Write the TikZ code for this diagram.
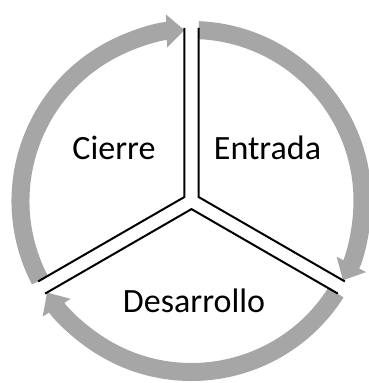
\documentclass[tikz,border=0pt]{standalone}
\usepackage{fontspec}
\setmainfont{Carlito}
\definecolor{cyclegray}{RGB}{166, 166, 166}
\usetikzlibrary{arrows.meta, calc}

\begin{document}
\begin{tikzpicture}[x=1pt, y=1pt,
  cyclearrow/.style={draw=cyclegray, line width=18pt, -{Triangle[width=32pt, length=18pt]}},
  divider/.style={draw=black, line width=2pt},
  phase/.style={anchor=base, font=\fontsize{34}{40}\selectfont}]
  \useasboundingbox (0,0) rectangle (369,383);
  \coordinate (c) at (191.5,182);

  % arcs of the cycle
  \draw[cyclearrow] ($(c)+(207.65:171pt)$) arc[start angle=207.65, end angle=92.35, radius=171pt];
  \draw[cyclearrow] ($(c)+(87.65:171pt)$) arc[start angle=87.65, end angle=-27.65, radius=171pt];
  \draw[cyclearrow] ($(c)+(-32.35:171pt)$) arc[start angle=-32.35, end angle=-147.65, radius=171pt];

  % corners of the three sectors
  \coordinate (cierre) at ($(c)+(150:8.1pt)$);
  \coordinate (entrada) at ($(c)+(30:8.1pt)$);
  \coordinate (desarrollo) at ($(c)+(270:8.1pt)$);

  % double dividers
  \draw[divider] ($(cierre)+(90:169pt)$) -- (cierre) -- ++(210:169pt);
  \draw[divider] ($(entrada)+(90:169pt)$) -- (entrada) -- ++(-30:169pt);
  \draw[divider] ($(desarrollo)+(210:169pt)$) -- (desarrollo) -- ++(-30:169pt);

  % labels
  \node[phase] (lcierre) at (114,223) {Cierre};
  \node[phase] (lentrada) at (267.5,223) {Entrada};
  \node[phase] (ldesarrollo) at (194,70) {Desarrollo};
\end{tikzpicture}
\end{document}
